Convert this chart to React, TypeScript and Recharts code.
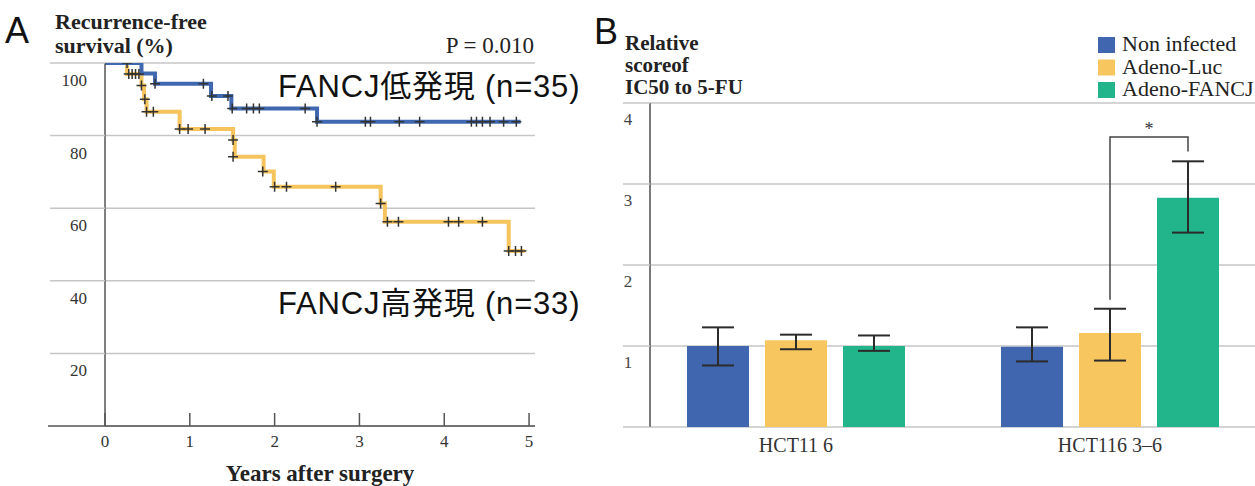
import React from 'react';
import {
  ComposedChart,
  Line,
  Scatter,
  XAxis,
  YAxis,
  CartesianGrid,
  BarChart,
  Bar,
  ErrorBar,
} from 'recharts';

// ---------- Panel A data (Kaplan-Meier, recurrence-free survival %) ----------
const yearTicks = [0, 1, 2, 3, 4, 5];
const survivalTicks = [0, 20, 40, 60, 80, 100];

// FANCJ low expression (n=35) – blue
const lowTimes = [0, 0.43, 0.59, 1.25, 1.49, 2.5, 4.9];
const lowSurvival = [100, 97.1, 94.3, 90.9, 87.5, 83.8, 83.8];
const lowCensorTimes = [0.26, 0.59, 1.16, 1.26, 1.45, 1.5, 1.67, 1.75, 1.82, 2.36, 2.5, 3.07, 3.13, 3.47, 3.71, 4.32, 4.38, 4.45, 4.54, 4.7, 4.85];
const lowCensorSurvival = [100, 94.3, 94.3, 90.9, 90.9, 87.5, 87.5, 87.5, 87.5, 87.5, 83.8, 83.8, 83.8, 83.8, 83.8, 83.8, 83.8, 83.8, 83.8, 83.8, 83.8];

// FANCJ high expression (n=33) – yellow
const highTimes = [0, 0.26, 0.43, 0.46, 0.49, 0.88, 1.51, 1.53, 1.87, 1.99, 3.25, 3.3, 4.76, 4.95];
const highSurvival = [100, 97.0, 93.8, 90.0, 86.6, 81.8, 78.8, 74.2, 70.1, 65.9, 61.3, 56.3, 48.2, 48.2];
const highCensorTimes = [0.28, 0.32, 0.36, 0.4, 0.43, 0.47, 0.49, 0.57, 0.88, 0.98, 1.18, 1.51, 1.51, 1.86, 2.0, 2.14, 2.72, 3.25, 3.33, 3.46, 4.05, 4.17, 4.45, 4.76, 4.84, 4.91];
const highCensorSurvival = [97, 97, 97, 97, 93.8, 90, 86.6, 86.6, 81.8, 81.8, 81.8, 78.8, 74.2, 70.1, 65.9, 65.9, 65.9, 61.3, 56.3, 56.3, 56.3, 56.3, 56.3, 48.2, 48.2, 48.2];

// ---------- Panel B data (relative IC50 to 5-FU) ----------
const cellLines = ['HCT11 6', 'HCT116 3\u20136'];
const seriesNames = ['Non infected', 'Adeno-Luc', 'Adeno-FANCJ'];
const seriesColors = ['#3f66ae', '#f7c65e', '#22b48a'];
const nonInfectedMean = [1.0, 0.99];
const nonInfectedLow = [0.76, 0.81];
const nonInfectedHigh = [1.23, 1.23];
const adenoLucMean = [1.07, 1.16];
const adenoLucLow = [0.96, 0.82];
const adenoLucHigh = [1.14, 1.46];
const adenoFancjMean = [1.0, 2.83];
const adenoFancjLow = [0.94, 2.4];
const adenoFancjHigh = [1.13, 3.28];
const ic50Ticks = [0, 1, 2, 3, 4];
// significance bracket between Adeno-Luc and Adeno-FANCJ in HCT116 3-6
const sigCellIndex = 1;
const sigLabel = '*';
const sigTop = 3.58;
const sigLeftBottom = 1.57;
const sigRightBottom = 3.4;

// ---------- built tables ----------
const toPoints = (ts: number[], ss: number[]) => ts.map((t, i) => ({ t, s: ss[i] }));
const lowLine = toPoints(lowTimes, lowSurvival);
const highLine = toPoints(highTimes, highSurvival);
const lowCensor = toPoints(lowCensorTimes, lowCensorSurvival);
const highCensor = toPoints(highCensorTimes, highCensorSurvival);

const barData = cellLines.map((cell, i) => ({
  cell,
  non: nonInfectedMean[i],
  nonErr: [nonInfectedMean[i] - nonInfectedLow[i], nonInfectedHigh[i] - nonInfectedMean[i]],
  luc: adenoLucMean[i],
  lucErr: [adenoLucMean[i] - adenoLucLow[i], adenoLucHigh[i] - adenoLucMean[i]],
  fancj: adenoFancjMean[i],
  fancjErr: [adenoFancjMean[i] - adenoFancjLow[i], adenoFancjHigh[i] - adenoFancjMean[i]],
}));

// ---------- styles ----------
const SERIF = '"Liberation Serif", "Times New Roman", serif';
const SANS = '"Liberation Sans", Arial, "Noto Sans CJK JP", sans-serif';
const BLUE = '#4068b0';
const YELLOW = '#f5c45c';
const GRID = '#c6c6c6';
const AXIS_A = '#555';
const BAR_SIZE = 62;
const BAR_GAP = 16;

const XTickA = (p: any) => {
  const { x, y, payload } = p;
  return (
    <g>
      <line x1={x} x2={x} y1={y} y2={y - 13} stroke={AXIS_A} strokeWidth={1.5} />
      <text x={x} y={y + 21} textAnchor="middle" fontFamily={SERIF} fontSize={17} fill="#333">
        {payload.value}
      </text>
    </g>
  );
};

const YTickA = (p: any) => {
  const { x, y, payload } = p;
  if (payload.value === 0) {
    return <line x1={x - 57} x2={x} y1={y} y2={y} stroke={AXIS_A} strokeWidth={1.5} />;
  }
  return (
    <g>
      <line x1={x - 55} x2={x} y1={y} y2={y} stroke={GRID} strokeWidth={1.5} />
      <text x={x - 18} y={y + 23} textAnchor="end" fontFamily={SERIF} fontSize={17} fill="#333">
        {payload.value}
      </text>
    </g>
  );
};

const XTickB = (p: any) => {
  const { x, y, payload } = p;
  return (
    <text x={x} y={y + 25} textAnchor="middle" fontFamily={SERIF} fontSize={20} fill="#333">
      {payload.value}
    </text>
  );
};

const YTickB = (p: any) => {
  const { x, y, payload } = p;
  return (
    <g>
      <line x1={x - 27} x2={x} y1={y} y2={y} stroke={GRID} strokeWidth={1.5} />
      {payload.value !== 0 && (
        <text x={x - 22} y={y + 22} textAnchor="middle" fontFamily={SERIF} fontSize={17} fill="#444">
          {payload.value}
        </text>
      )}
    </g>
  );
};

const Plus = (p: any) => {
  const { cx, cy } = p;
  if (cx == null || cy == null) return <g />;
  return <path d={`M${cx - 5},${cy}h10M${cx},${cy - 5}v10`} stroke="#333" strokeWidth={1.5} fill="none" />;
};

const FancjBar = (p: any) => {
  const { x, y, width, height, fill, index, payload } = p;
  const rect = <rect x={x} y={y} width={width} height={height} fill={fill} />;
  if (index !== sigCellIndex) return rect;
  const v = payload.fancj;
  const base = y + height;
  const toY = (val: number) => base - (val * height) / v;
  const rightX = x + width / 2;
  const leftX = rightX - (BAR_SIZE + BAR_GAP);
  const topY = toY(sigTop);
  return (
    <g>
      {rect}
      <path
        d={`M${leftX},${toY(sigLeftBottom)}V${topY}H${rightX}V${toY(sigRightBottom)}`}
        stroke="#444"
        strokeWidth={1.5}
        fill="none"
      />
      <text x={(leftX + rightX) / 2} y={topY - 2} textAnchor="middle" fontFamily={SERIF} fontSize={18} fill="#333">
        {sigLabel}
      </text>
    </g>
  );
};

export default function App() {
  return (
    <div
      style={{
        position: 'fixed',
        left: 0,
        top: 0,
        width: 1255,
        height: 486,
        background: '#fff',
        overflow: 'hidden',
      }}
    >
      <div style={{ position: 'absolute', left: 0, top: 0 }}>
        <ComposedChart width={560} height={486} margin={{ top: 63, right: 25, bottom: 0, left: 0 }}>
          <CartesianGrid vertical={false} stroke={GRID} strokeWidth={1.5} />
          <XAxis
            type="number"
            dataKey="t"
            domain={[0, 5.07]}
            allowDataOverflow
            ticks={yearTicks}
            interval={0}
            height={60}
            tickSize={0}
            tickMargin={0}
            tickLine={false}
            axisLine={{ stroke: AXIS_A, strokeWidth: 1.5 }}
            tick={XTickA}
          />
          <YAxis
            type="number"
            dataKey="s"
            domain={[0, 100]}
            allowDataOverflow
            ticks={survivalTicks}
            interval={0}
            width={105}
            tickSize={0}
            tickMargin={0}
            tickLine={false}
            axisLine={{ stroke: AXIS_A, strokeWidth: 1.5 }}
            tick={YTickA}
          />
          <Line
            data={highLine}
            dataKey="s"
            type="stepAfter"
            stroke={YELLOW}
            strokeWidth={4}
            dot={false}
            activeDot={false}
            isAnimationActive={false}
          />
          <Line
            data={lowLine}
            dataKey="s"
            type="stepAfter"
            stroke={BLUE}
            strokeWidth={4}
            dot={false}
            activeDot={false}
            isAnimationActive={false}
          />
          <Scatter data={highCensor} dataKey="s" shape={Plus} isAnimationActive={false} />
          <Scatter data={lowCensor} dataKey="s" shape={Plus} isAnimationActive={false} />
        </ComposedChart>
      </div>

      <div style={{ position: 'absolute', left: 560, top: 0 }}>
        <BarChart
          width={695}
          height={486}
          data={barData}
          margin={{ top: 103, right: 0, bottom: 0, left: 0 }}
          barSize={BAR_SIZE}
          barGap={BAR_GAP}
        >
          <CartesianGrid vertical={false} stroke={GRID} strokeWidth={1.5} />
          <XAxis
            dataKey="cell"
            height={59}
            tickSize={0}
            tickMargin={0}
            tickLine={false}
            axisLine={false}
            interval={0}
            padding={{ left: -11, right: -12 }}
            tick={XTickB}
          />
          <YAxis
            type="number"
            domain={[0, 4]}
            ticks={ic50Ticks}
            interval={0}
            width={90}
            tickSize={0}
            tickMargin={0}
            tickLine={false}
            axisLine={{ stroke: '#7a7a7a', strokeWidth: 2 }}
            tick={YTickB}
          />
          <Bar dataKey="non" fill={seriesColors[0]} isAnimationActive={false}>
            <ErrorBar dataKey="nonErr" width={16} stroke="#2b2b2b" strokeWidth={2} />
          </Bar>
          <Bar dataKey="luc" fill={seriesColors[1]} isAnimationActive={false}>
            <ErrorBar dataKey="lucErr" width={16} stroke="#2b2b2b" strokeWidth={2} />
          </Bar>
          <Bar dataKey="fancj" fill={seriesColors[2]} shape={FancjBar} isAnimationActive={false}>
            <ErrorBar dataKey="fancjErr" width={16} stroke="#2b2b2b" strokeWidth={2} />
          </Bar>
        </BarChart>
      </div>

      <svg
        width={1255}
        height={486}
        style={{ position: 'absolute', left: 0, top: 0, pointerEvents: 'none' }}
      >
        {/* Panel A texts */}
        <text x={5} y={43} fontFamily={SANS} fontSize={36} fill="#111">A</text>
        <text x={55} y={29} fontFamily={SERIF} fontSize={22} fontWeight="bold" fill="#222">Recurrence-free</text>
        <text x={55} y={53} fontFamily={SERIF} fontSize={22} fontWeight="bold" fill="#222">survival (%)</text>
        <text x={534} y={53} textAnchor="end" fontFamily={SERIF} fontSize={23} fill="#222">P = 0.010</text>
        <text x={278} y={97} fontFamily={SANS} fontSize={31} letterSpacing={0.8} fill="#111">FANCJ低発現 (n=35)</text>
        <text x={278} y={314} fontFamily={SANS} fontSize={31} letterSpacing={0.8} fill="#111">FANCJ高発現 (n=33)</text>
        <text x={320} y={481} textAnchor="middle" fontFamily={SERIF} fontSize={23} fontWeight="bold" fill="#222">
          Years after surgery
        </text>

        {/* Panel B texts */}
        <text x={594} y={44} fontFamily={SANS} fontSize={36} fill="#111">B</text>
        <text x={625} y={50} fontFamily={SERIF} fontSize={21} fontWeight="bold" fill="#222">Relative</text>
        <text x={625} y={72} fontFamily={SERIF} fontSize={21} fontWeight="bold" fill="#222">scoreof</text>
        <text x={625} y={94} fontFamily={SERIF} fontSize={21} fontWeight="bold" fill="#222">IC50 to 5-FU</text>

        {seriesNames.map((name, i) => (
          <g key={name}>
            <rect x={1098} y={37 + i * 22.5} width={17} height={16} fill={seriesColors[i]} />
            <text x={1122} y={51 + i * 22.7} fontFamily={SERIF} fontSize={22} fill="#222">
              {name}
            </text>
          </g>
        ))}
      </svg>
    </div>
  );
}
